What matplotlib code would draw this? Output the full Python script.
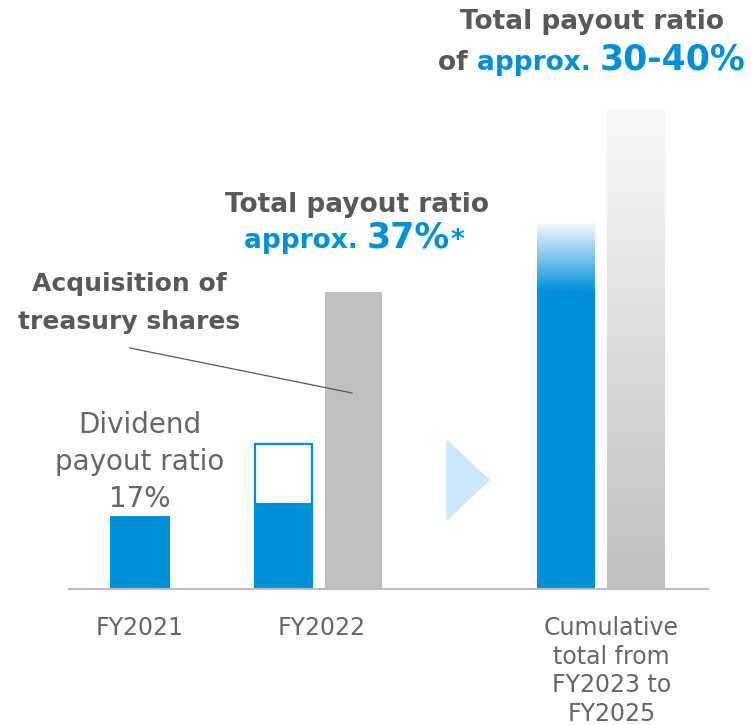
import numpy as np
import matplotlib
matplotlib.use("Agg")
import matplotlib.pyplot as plt
from matplotlib.patches import Polygon
from matplotlib.lines import Line2D
from matplotlib.offsetbox import TextArea, HPacker, AnnotationBbox

# valores (% aproximados)
categorias = ["FY2021", "FY2022", "Cumulative\ntotal from\nFY2023 to\nFY2025"]
pos_grupo = [0.0, 1.0, 2.57]
pos_rotulo = [0.0, 1.01, 2.62]
dividendo = [17, 20]            # FY2021, FY2022
dividendo_previsto = 34         # contorno FY2022
acoes_proprias = 70             # FY2022
cumul_azul_solido = 70
cumul_azul_topo = 87
cumul_cinza = 113

AZUL = "#0090DA"
CINZA_BARRA = "#BFBFBF"
CINZA_TXT = "#666666"
CINZA_TIT = "#595959"

W, H = 751, 725
fig = plt.figure(figsize=(W / 100, H / 100), dpi=100)
ax = fig.add_axes([0, 0, 1, 1])
ax.set_xlim(-140 / 180, 611 / 180)
ax.set_ylim(-(H - 588) / 4.235, 588 / 4.235)
ax.axis("off")


def px(x, y):
    """pixel da imagem -> fração da figura"""
    return (x / W, 1 - y / H)


# barras FY2021 / FY2022
ax.bar(pos_grupo[0], dividendo[0], width=0.328, color=AZUL)
ax.bar(pos_grupo[1] - 0.205, dividendo_previsto, width=0.317, color="white",
       edgecolor=AZUL, linewidth=1.6)
ax.bar(pos_grupo[1] - 0.205, dividendo[1], width=0.317, color=AZUL)
ax.bar(pos_grupo[1] + 0.185, acoes_proprias, width=0.317, color=CINZA_BARRA)

# barras acumuladas com gradiente
xa = pos_grupo[2] - 0.205
barra_a = ax.bar(xa, cumul_azul_topo, width=0.317, color="none")[0]
n = 200
yy = np.linspace(0, cumul_azul_topo, n)
alfa = np.clip((cumul_azul_topo - yy) / (cumul_azul_topo - cumul_azul_solido), 0, 1)
img = np.zeros((n, 1, 4))
img[..., 0] = 0 / 255
img[..., 1] = 144 / 255
img[..., 2] = 218 / 255
img[:, 0, 3] = alfa
im = ax.imshow(img, extent=[xa - 0.1585, xa + 0.1585, 0, cumul_azul_topo],
               origin="lower", aspect="auto", interpolation="bilinear")
im.set_clip_path(barra_a)

xc = pos_grupo[2] + 0.185
barra_c = ax.bar(xc, cumul_cinza, width=0.317, color="none")[0]
t = np.linspace(0, 1, n)
g = (191 + (249 - 191) * t) / 255
img2 = np.zeros((n, 1, 4))
img2[:, 0, 0] = g
img2[:, 0, 1] = g
img2[:, 0, 2] = g
img2[..., 3] = 1
im2 = ax.imshow(img2, extent=[xc - 0.1585, xc + 0.1585, 0, cumul_cinza],
                origin="lower", aspect="auto", interpolation="bilinear")
im2.set_clip_path(barra_c)

# linha de base
fig.add_artist(Line2D([69 / W, 708 / W], [1 - 589 / H] * 2, color=CINZA_BARRA, lw=1.5))

# seta
fig.add_artist(Polygon([px(447, 441), px(447, 520), px(489, 480)],
                       closed=True, color="#CCE8FA", transform=fig.transFigure))

# linha de chamada
fig.add_artist(Line2D([130 / W, 352 / W], [1 - 348 / H, 1 - 393 / H], color=CINZA_TIT, lw=0.9))

# rótulos das categorias
for xp, lab in zip(pos_rotulo, categorias):
    ax.text(xp, -(616 - 588) / 4.235, lab, ha="center", va="top", fontsize=17,
            color=CINZA_TXT, linespacing=1.24)

fig.text(*px(140, 462), "Dividend\npayout ratio\n17%", ha="center", va="center",
         fontsize=20, color=CINZA_TXT, linespacing=1.39)

fig.text(*px(129, 303), "Acquisition of\ntreasury shares", ha="center", va="center",
         fontsize=18, color=CINZA_TIT, fontweight="bold", linespacing=1.77)

fig.text(*px(357, 205), "Total payout ratio", ha="center", va="center",
         fontsize=19, color=CINZA_TIT, fontweight="bold")
fig.text(*px(592, 22), "Total payout ratio", ha="center", va="center",
         fontsize=19, color=CINZA_TIT, fontweight="bold")


def linha_mista(partes, xy):
    filhos = [TextArea(s, textprops=dict(color=c, fontsize=f, fontweight="bold"))
              for s, c, f in partes]
    caixa = HPacker(children=filhos, align="baseline", pad=0, sep=0)
    ab = AnnotationBbox(caixa, px(*xy), xycoords="figure fraction",
                        frameon=False, box_alignment=(0.5, 0.5), pad=0)
    fig.add_artist(ab)


linha_mista([("approx. ", AZUL, 19), ("37%", AZUL, 25), ("*", AZUL, 19)], (354, 238))
linha_mista([("of ", CINZA_TIT, 19), ("approx. ", AZUL, 19), ("30-40%", AZUL, 25)], (592, 60))

fig.savefig("out.png", dpi=100)
